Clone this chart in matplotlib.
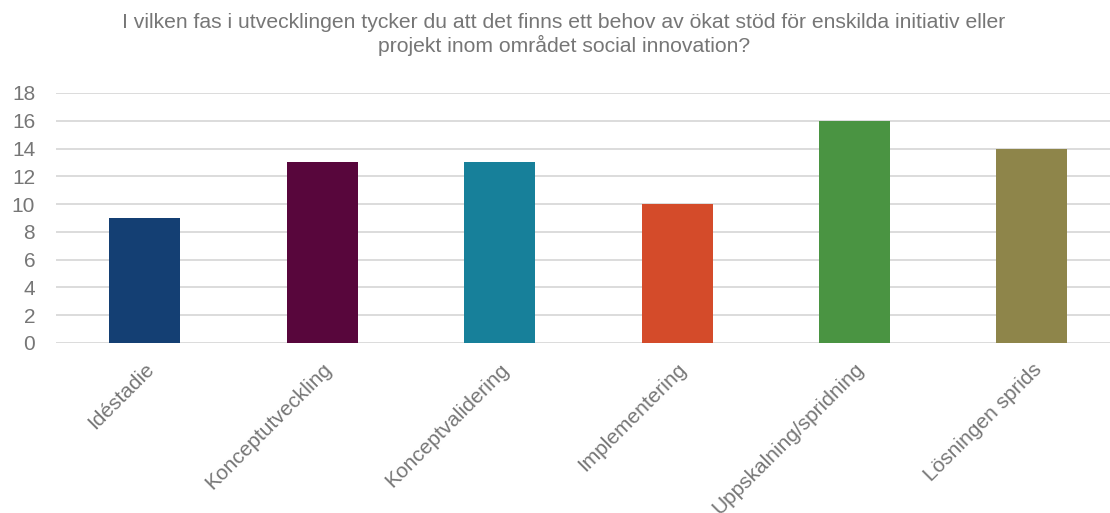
import matplotlib.pyplot as plt

# Datos del gráfico
faser = ["Idéstadie", "Konceptutveckling", "Konceptvalidering",
         "Implementering", "Uppskalning/spridning", "Lösningen sprids"]
antal = [9, 13, 13, 10, 16, 14]
farger = ["#143F73", "#58063C", "#17809A", "#D44B2A", "#4A9442", "#8E854A"]
y_ticks = [0, 2, 4, 6, 8, 10, 12, 14, 16, 18]
titel = ("I vilken fas i utvecklingen tycker du att det finns ett behov av ökat stöd för enskilda initiativ eller\n"
         "projekt inom området social innovation?")

plt.rcParams['font.family'] = ['Liberation Sans', 'DejaVu Sans']
GRIS = "#767676"

fig = plt.figure(figsize=(11.10, 5.13), dpi=100)
ax = fig.add_axes([56 / 1110, 1 - 343 / 513, 1 - 56 / 1110, 250 / 513])

ax.bar(range(len(faser)), antal, width=0.4, color=farger, zorder=3)
ax.set_xlim(-0.5, 5.44)
ax.set_ylim(0, 18)
ax.set_yticks(y_ticks)
ax.yaxis.grid(True, color="#D9D9D9", linewidth=1.3, zorder=0)
for s in ax.spines.values():
    s.set_visible(False)
ax.tick_params(axis="y", length=0, labelsize=15, labelcolor=GRIS, pad=15)
ax.tick_params(axis="x", length=0, labelsize=15, labelcolor=GRIS, pad=12)
ax.set_xticks(range(len(faser)))
ax.set_xticklabels(faser, rotation=45, ha="right", rotation_mode="anchor")

fig.text(0.508, 0.975, titel, ha="center", va="top", fontsize=15.2,
         color=GRIS, linespacing=1.2)

fig.savefig("out.png", dpi=100)
